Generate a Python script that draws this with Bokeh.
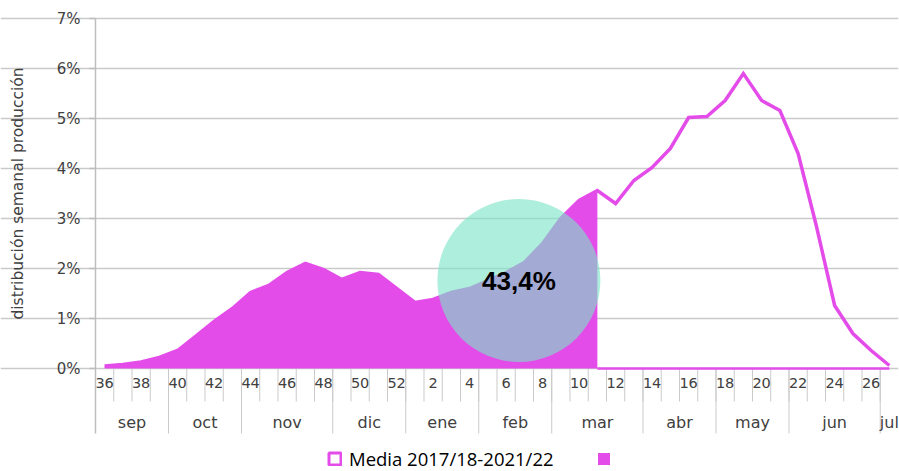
import math
from bokeh.plotting import figure
from bokeh.models import (Range1d, FixedTicker, PrintfTickFormatter,
                          Legend, LegendItem)
from bokeh.core.properties import value
from bokeh.embed import file_html
from bokeh.resources import INLINE

# ---------------- data ----------------
weeks = [36, 37, 38, 39, 40, 41, 42, 43, 44, 45, 46, 47, 48, 49, 50, 51, 52,
         1, 2, 3, 4, 5, 6, 7, 8, 9, 10, 11, 12, 13, 14, 15, 16, 17, 18, 19, 20,
         21, 22, 23, 24, 25, 26, 27]

media = [0.05, 0.08, 0.13, 0.22, 0.36, 0.65, 0.94, 1.20, 1.52, 1.66, 1.92, 2.10,
         1.98, 1.78, 1.92, 1.88, 1.60, 1.32, 1.38, 1.52, 1.60, 1.76, 1.92, 2.12,
         2.50, 3.00, 3.36, 3.56, 3.30, 3.76, 4.02, 4.40, 5.02, 5.04, 5.36, 5.90,
         5.36, 5.16, 4.30, 2.85, 1.26, 0.70, 0.36, 0.06]

actual = [0.05, 0.08, 0.13, 0.22, 0.36, 0.65, 0.94, 1.20, 1.52, 1.66, 1.92, 2.10,
          1.98, 1.78, 1.92, 1.88, 1.60, 1.32, 1.38, 1.52, 1.60, 1.76, 1.92, 2.12,
          2.50, 3.00, 3.36, 3.56, 0, 0, 0, 0, 0, 0, 0, 0,
          0, 0, 0, 0, 0, 0, 0, 0]

months = ["sep", "oct", "nov", "dic", "ene", "feb", "mar", "abr", "may", "jun", "jul"]
month_weeks = [4, 4, 5, 4, 4, 4, 5, 4, 4, 5, 1]

y_ticks = [0, 1, 2, 3, 4, 5, 6, 7]
y_title = "distribución semanal producción"
series_name = "Media 2017/18-2021/22"
share_text = "43,4%"
share_week_pos = 23.2   # position of the share bubble (week units)
share_y = 1.76

# ---------------- style ----------------
MAG = "#E44CE9"
GRID = "#CACACA"
AXIS = "#BEBEBE"
TXT = "#404040"
AXF = "DejaVu Sans"

n = len(weeks)
centers = [i + 0.5 for i in range(n)]

p = figure(frame_width=898, frame_height=471,
           x_range=Range1d(-5.205, n), y_range=Range1d(-2.06, 7.36),
           output_backend="svg", toolbar_location=None,
           min_border_left=0, min_border_right=1, min_border_top=0,
           min_border_bottom=0, x_axis_location=None)
p.outline_line_color = None
p.background_fill_color = "white"
p.border_fill_color = "white"
p.xgrid.grid_line_color = None

# y axis, fixed at the first week boundary
yax = p.yaxis[0]
yax.fixed_location = 0
yax.ticker = FixedTicker(ticks=y_ticks)
yax.formatter = PrintfTickFormatter(format="%d%%")
yax.axis_line_color = None
yax.major_tick_line_color = AXIS
yax.major_tick_line_width = 1.5
yax.major_tick_out = 6
yax.major_tick_in = 0
yax.minor_tick_line_color = None
yax.major_label_standoff = 9
yax.major_label_text_font = AXF
yax.major_label_text_font_size = "15px"
yax.major_label_text_color = TXT
p.ygrid.ticker = FixedTicker(ticks=y_ticks)
p.ygrid.bounds = (0, n)
p.ygrid.grid_line_color = GRID
p.ygrid.grid_line_width = 1.5

# y title
p.text(x=[-4.22], y=[(y_ticks[0] + y_ticks[-1]) / 2], text=[y_title],
       angle=math.pi / 2, text_align="center", text_baseline="middle",
       text_font=value(AXF), text_font_size="15.5px", text_color=TXT)

# category axis (drawn inside the extended frame)
week_tick_len = 0.66
month_tick_len = 1.30
p.segment(x0=[0], y0=[y_ticks[-1]], x1=[0], y1=[-month_tick_len],
          line_color=AXIS, line_width=1.5)
p.segment(x0=list(range(1, n)), y0=[0] * (n - 1), x1=list(range(1, n)),
          y1=[-week_tick_len] * (n - 1), line_color=GRID, line_width=1)
bounds = []
acc = 0
for m in month_weeks:
    bounds.append(acc)
    acc += m
mb = [b for b in bounds if b > 0]
p.segment(x0=mb, y0=[0] * len(mb), x1=mb, y1=[-month_tick_len] * len(mb),
          line_color=GRID, line_width=1)

lab_x = [centers[i] for i, w in enumerate(weeks) if w % 2 == 0]
lab_t = [str(w) for w in weeks if w % 2 == 0]
p.text(x=lab_x, y=[-0.29] * len(lab_x), text=lab_t, text_align="center",
       text_baseline="middle", text_font=value(AXF), text_font_size="14.5px",
       text_color=TXT)
mx = [b + m / 2 for b, m in zip(bounds, month_weeks)]
p.text(x=mx, y=[-1.08] * len(mx), text=months, text_align="center",
       text_baseline="middle", text_font=value(AXF), text_font_size="16px",
       text_color=TXT)

# area (current season up to now)
last = max(i for i, v in enumerate(actual) if v > 0)
p.varea(x=centers[:last + 1], y1=[0] * (last + 1), y2=actual[:last + 1],
        fill_color=MAG)
zx = [centers[last]] + centers[last + 1:]
zy = [0] + actual[last + 1:]
p.line(x=zx, y=zy, line_color=MAG, line_width=2.5)

# media line
p.line(x=centers, y=media, line_color=MAG, line_width=3.5, line_join="miter")

# share bubble
p.scatter(x=[share_week_pos], y=[share_y], size=163, marker="circle",
          fill_color="#7BE3C6", fill_alpha=0.62, line_color=None)
p.text(x=[share_week_pos], y=[share_y], text=[share_text], text_align="center",
       text_baseline="middle", text_font=value("Liberation Sans"),
       text_font_size="26px", text_font_style="bold", text_color="black")

# legend (swatch-only renderers, nothing to draw in the plot)
nan = float("nan")
r1 = p.quad(left=[nan], right=[nan], top=[nan], bottom=[nan], fill_color="white",
            line_color=MAG, line_width=3)
r2 = p.quad(left=[nan], right=[nan], top=[nan], bottom=[nan], fill_color=MAG,
            line_color=None)
legend = Legend(items=[LegendItem(label=series_name, renderers=[r1]),
                       LegendItem(label="", renderers=[r2])],
                orientation="horizontal", location=(327, 0),
                glyph_width=15, glyph_height=15, label_standoff=7, spacing=42,
                padding=1, margin=0, border_line_color=None,
                background_fill_alpha=0,
                label_text_font="Open Sans", label_text_font_size="18.5px",
                label_text_color="black")
p.add_layout(legend)

open("out.html", "w").write(file_html(p, INLINE))
